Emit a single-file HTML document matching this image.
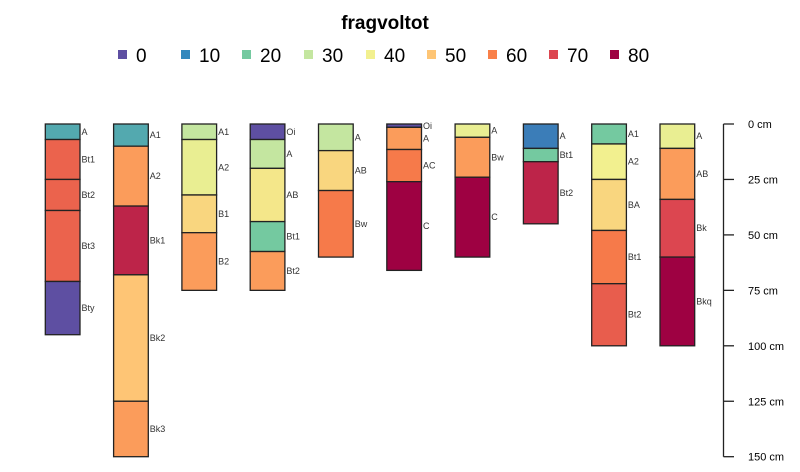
<!DOCTYPE html>
<html><head><meta charset="utf-8"><style>
html,body{margin:0;padding:0;background:#fff;}
svg{display:block;font-family:"Liberation Sans",Arial,sans-serif;}
</style></head><body>
<svg id="chart" width="800" height="472" viewBox="0 0 800 472"></svg>
<script>
// legend
const legendValues = [0,10,20,30,40,50,60,70,80];
const legendColors = ["#5E4FA2","#3288BD","#74C9A0","#C4E6A0","#F2F08F","#FEC575","#F98049","#DC4650","#9E0142"];
// profiles: horizon names, top depths, bottom depths, fragvoltot values
const p1Names=["A","Bt1","Bt2","Bt3","Bty"], p1Top=[0,7,25,39,71], p1Bot=[7,25,39,71,95], p1Val=[15,65,65,65,0];
const p2Names=["A1","A2","Bk1","Bk2","Bk3"], p2Top=[0,10,37,68,125], p2Bot=[10,37,68,125,150], p2Val=[15,56,75,50,56];
const p3Names=["A1","A2","B1","B2"], p3Top=[0,7,32,49], p3Bot=[7,32,49,75], p3Val=[30,38,46,56];
const p4Names=["Oi","A","AB","Bt1","Bt2"], p4Top=[0,7,20,44,57.5], p4Bot=[7,20,44,57.5,75], p4Val=[0,30,42,20,56];
const p5Names=["A","AB","Bw"], p5Top=[0,12,30], p5Bot=[12,30,60], p5Val=[30,46,61];
const p6Names=["Oi","A","AC","C"], p6Top=[0,1.5,11.5,26], p6Bot=[1.5,11.5,26,66], p6Val=[0,56,61,80];
const p7Names=["A","Bw","C"], p7Top=[0,6,24], p7Bot=[6,24,60], p7Val=[38,56,80];
const p8Names=["A","Bt1","Bt2"], p8Top=[0,11,17], p8Bot=[11,17,45], p8Val=[8,20,75];
const p9Names=["A1","A2","BA","Bt1","Bt2"], p9Top=[0,9,25,48,72], p9Bot=[9,25,48,72,100], p9Val=[20,40,46,61,66];
const p10Names=["A","AB","Bk","Bkq"], p10Top=[0,11,34,60], p10Bot=[11,34,60,100], p10Val=[38,56,70,80];
const profiles=[[p1Names,p1Top,p1Bot,p1Val],[p2Names,p2Top,p2Bot,p2Val],[p3Names,p3Top,p3Bot,p3Val],[p4Names,p4Top,p4Bot,p4Val],[p5Names,p5Top,p5Bot,p5Val],[p6Names,p6Top,p6Bot,p6Val],[p7Names,p7Top,p7Bot,p7Val],[p8Names,p8Top,p8Bot,p8Val],[p9Names,p9Top,p9Bot,p9Val],[p10Names,p10Top,p10Bot,p10Val]];
const depthTicks=[0,25,50,75,100,125,150];

const NS="http://www.w3.org/2000/svg";
const svg=document.getElementById("chart");
function el(tag,attrs,parent){const e=document.createElementNS(NS,tag);for(const k in attrs)e.setAttribute(k,attrs[k]);(parent||svg).appendChild(e);return e;}
const y=d=>124+d*2.218;
const px=i=>45.3+i*68.3;
const W=34.7;
function hex(c){return [1,3,5].map(i=>parseInt(c.substr(i,2),16));}
function color(v){
  if(v<=legendValues[0])return legendColors[0];
  for(let i=1;i<legendValues.length;i++){
    if(v<=legendValues[i]){const t=(v-legendValues[i-1])/(legendValues[i]-legendValues[i-1]);
      const a=hex(legendColors[i-1]),b=hex(legendColors[i]);
      return "rgb("+a.map((x,j)=>Math.round(x+(b[j]-x)*t)).join(",")+")";}
  }
  return legendColors[legendColors.length-1];
}
// title
const title=el("text",{x:385,y:29,"text-anchor":"middle","font-size":"19","font-weight":"bold",fill:"#000"});
title.textContent="fragvoltot";


const sqX=[122,185,246,308,370,431,492,553,614];
legendValues.forEach((v,i)=>{
  const g=el("g",{});
  
  
  el("rect",{x:sqX[i]-4,y:50,width:9,height:9,fill:legendColors[i]},g);
  const t=el("text",{x:sqX[i]+14,y:62,"font-size":"19",fill:"#000"},g);
  t.textContent=v;
});
// profiles
profiles.forEach((p,i)=>{
  const [names,tops,bots,vals]=p;
  const g=el("g",{});
  
  
  names.forEach((n,j)=>{
    const r=el("rect",{x:px(i),y:y(tops[j]),width:W,height:y(bots[j])-y(tops[j]),fill:color(vals[j]),stroke:"#222","stroke-width":"1.3"},g);
    
    
    let my=(y(tops[j])+y(bots[j]))/2+3;
    if(bots[j]-tops[j]<4)my=y(tops[j])+5;
    const t=el("text",{x:px(i)+W+1.5,y:my,"font-size":"9",fill:"#333"},g);
    t.textContent=n;
    
    
  });
});
// depth axis
const ax=el("g",{});


el("line",{x1:723.5,x2:723.5,y1:y(0),y2:y(150),stroke:"#222","stroke-width":"1.3"},ax);
depthTicks.forEach(d=>{
  el("line",{x1:723.5,x2:734,y1:y(d),y2:y(d),stroke:"#222","stroke-width":"1.3"},ax);
  const t=el("text",{x:748,y:y(d)+4,"font-size":"11",fill:"#000"},ax);
  t.textContent=d+" cm";
  
  
});
</script>
</body></html>
